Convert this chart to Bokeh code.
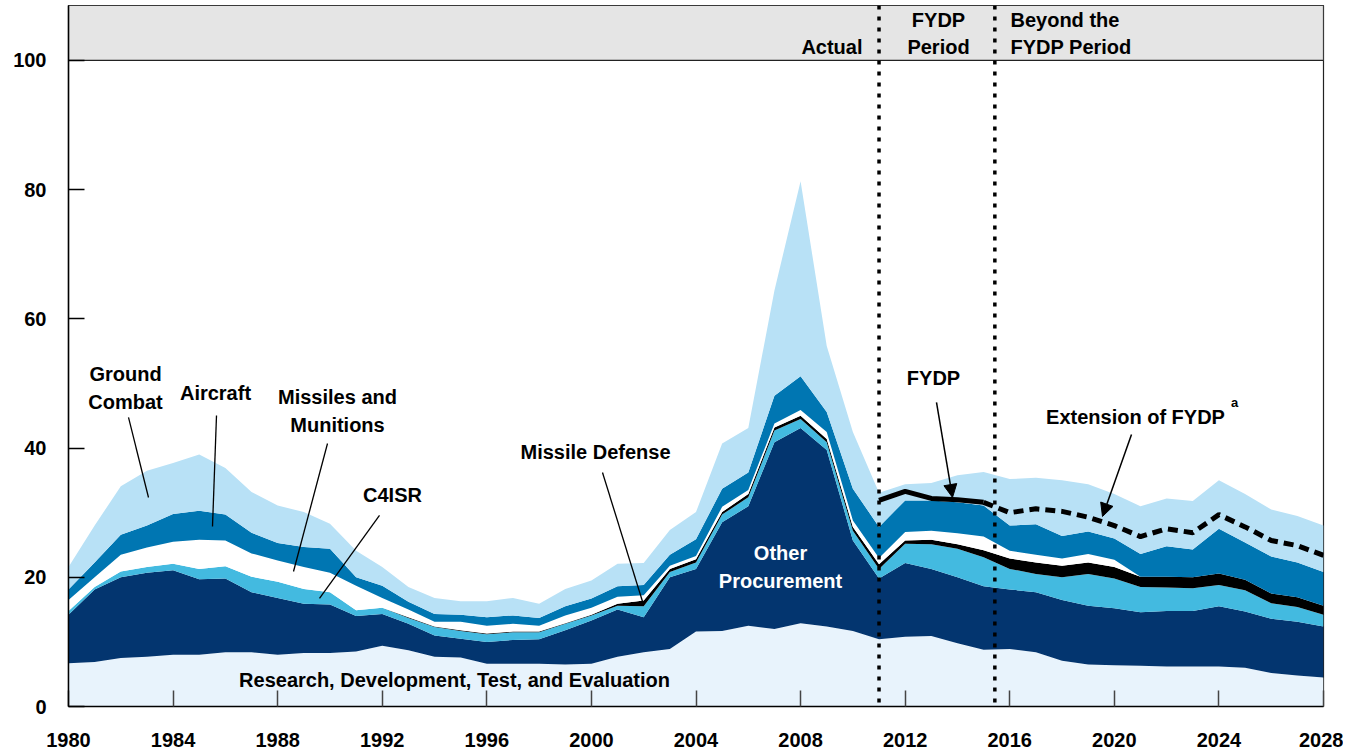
from bokeh.plotting import figure
from bokeh.models import ColumnDataSource, Range1d, FixedTicker, Label, Span, Arrow, NormalHead
from bokeh.embed import file_html
from bokeh.resources import INLINE

# ---------------- data (billions of dollars) ----------------
years = list(range(1980, 2029))
rdte = [6.7, 6.9, 7.5, 7.7, 8.0, 8.0, 8.4, 8.4, 8.0, 8.3,
        8.3, 8.5, 9.4, 8.7, 7.7, 7.6, 6.6, 6.6, 6.6, 6.5,
        6.6, 7.7, 8.4, 8.9, 11.6, 11.7, 12.5, 12.0, 12.9, 12.4,
        11.7, 10.4, 10.8, 10.9, 9.8, 8.8, 8.9, 8.4, 7.1, 6.5,
        6.4, 6.3, 6.2, 6.2, 6.2, 6.0, 5.2, 4.8, 4.5]
other_proc = [7.5, 11.2, 12.5, 13.0, 13.1, 11.7, 11.4, 9.3, 8.8, 7.6,
              7.5, 5.5, 4.9, 4.1, 3.3, 2.9, 3.4, 3.7, 3.8, 5.3,
              6.7, 7.3, 5.4, 11.1, 9.7, 16.8, 18.5, 28.9, 30.2, 27.3,
              14.0, 9.4, 11.4, 10.4, 10.2, 9.8, 9.2, 9.3, 9.4, 9.1,
              8.8, 8.3, 8.6, 8.6, 9.3, 8.7, 8.4, 8.3, 7.9]
c4isr = [0.6, 0.4, 0.9, 0.9, 1.0, 1.6, 1.9, 2.4, 2.5, 2.3,
         1.9, 0.9, 1.0, 0.9, 1.3, 1.2, 1.2, 1.2, 1.1, 1.0,
         0.8, 0.6, 1.7, 0.8, 1.0, 1.2, 1.4, 1.8, 1.4, 1.2,
         1.5, 1.5, 3.0, 3.8, 4.4, 4.5, 3.2, 2.8, 3.5, 4.9,
         4.6, 3.9, 3.6, 3.5, 3.3, 3.3, 2.4, 2.3, 1.8]
missile_def = [0, 0, 0, 0, 0, 0, 0, 0, 0, 0,
               0, 0, 0, 0.1, 0.1, 0.1, 0.1, 0.1, 0.1, 0.1,
               0.1, 0.3, 0.9, 0.5, 0.5, 0.4, 0.5, 0.5, 0.5, 0.5,
               0.6, 0.7, 0.5, 0.7, 0.7, 1.1, 1.6, 1.8, 1.8, 1.8,
               1.8, 1.6, 1.7, 1.7, 1.8, 1.6, 1.5, 1.5, 1.4]
missiles_mun = [1.7, 1.5, 2.6, 3.0, 3.4, 4.5, 4.0, 3.6, 3.3, 3.4,
                3.0, 3.8, 1.5, 1.2, 0.7, 1.3, 1.2, 1.2, 0.9, 1.2,
                1.1, 1.1, 0.8, 0.5, 0.5, 0.8, 0.6, 0.6, 0.9, 1.1,
                1.0, 1.0, 1.3, 1.4, 1.7, 2.1, 1.2, 1.2, 1.1, 1.3,
                1.1, 0, 0, 0, 0, 0, 0, 0, 0]
aircraft = [1.6, 2.3, 3.1, 3.4, 4.3, 4.5, 4.0, 3.2, 2.7, 3.1,
            3.7, 1.3, 1.9, 1.2, 1.2, 1.1, 1.3, 1.3, 1.2, 1.4,
            1.4, 1.6, 1.6, 1.7, 2.6, 2.8, 2.7, 4.3, 5.2, 3.1,
            4.9, 4.8, 4.9, 4.7, 4.8, 4.8, 3.9, 4.7, 3.5, 3.5,
            3.3, 3.5, 4.7, 4.3, 6.9, 5.8, 5.7, 5.4, 5.2]
ground_combat = [3.5, 5.7, 7.5, 8.5, 7.9, 8.7, 7.2, 6.3, 5.8, 5.4,
                 3.9, 4.1, 2.9, 2.3, 2.5, 2.1, 2.5, 2.7, 2.2, 2.7,
                 2.8, 3.5, 3.4, 3.8, 4.2, 7.0, 6.9, 16.3, 30.2, 10.2,
                 8.8, 5.3, 2.5, 2.7, 4.2, 5.2, 7.2, 7.2, 8.6, 7.3,
                 6.9, 7.4, 7.4, 7.5, 7.5, 7.5, 7.3, 7.2, 7.2]

fydp_years = [2011, 2012, 2013, 2014, 2015]
fydp_total = [31.9, 33.3, 32.2, 32.0, 31.6]
ext_years = list(range(2015, 2029))
ext_total = [31.6, 30.0, 30.6, 30.2, 29.3, 28.0, 26.3, 27.5, 26.9, 29.7, 27.8, 25.7, 24.9, 23.4]

x_tick_years = list(range(1980, 2029, 4))
y_ticks = [0, 20, 40, 60, 80, 100]
period_bounds = [2011, 2015.43]

# ---------------- styling ----------------
FONT = "Liberation Sans"
names = ["rdte", "other", "c4isr", "md", "mm", "air", "gc"]
colors = ["#e8f3fc", "#03356f", "#43bae0", "#000000", "#ffffff", "#0076b2", "#b8e1f6"]
Y_TOP = 108.5

src = ColumnDataSource(dict(year=years, rdte=rdte, other=other_proc, c4isr=c4isr,
                            md=missile_def, mm=missiles_mun, air=aircraft, gc=ground_combat))

p = figure(width=1343, height=755, x_range=Range1d(1980, 2028), y_range=Range1d(0, Y_TOP),
           output_backend="svg", toolbar_location=None,
           min_border_left=68, min_border_right=20, min_border_top=5, min_border_bottom=49)
p.xgrid.visible = False
p.ygrid.visible = False
p.outline_line_color = "#222222"
p.outline_line_width = 1.2


def px(x):
    return 1980 + (x - 68) * 48 / 1255


def py(y):
    return (706 - y) / 6.46


# header band
p.quad(left=[1980], right=[2028], bottom=[100], top=[Y_TOP], fill_color="#e5e5e5",
       line_color="#222222", line_width=1.2)

p.varea_stack(stackers=names, x="year", color=colors, source=src)

# FYDP lines
p.line(fydp_years, fydp_total, line_color="black", line_width=5)
p.line(ext_years, ext_total, line_color="black", line_width=5, line_dash="10 6")

# period separators
for b in period_bounds:
    p.add_layout(Span(location=b, dimension="height", line_color="black", line_width=3.5,
                      line_dash="4 7"))

# axes
for ax in (p.xaxis, p.yaxis):
    ax.major_tick_in = 16
    ax.major_tick_out = 0
    ax.minor_tick_line_color = None
    ax.major_label_text_font = FONT
    ax.major_label_text_font_style = "bold"
    ax.major_label_text_font_size = "20px"
    ax.major_label_text_color = "black"
    ax.axis_line_width = 1.5
    ax.major_tick_line_width = 1.5

p.yaxis.ticker = FixedTicker(ticks=y_ticks)
p.yaxis.major_label_standoff = 22
p.xaxis.ticker = FixedTicker(ticks=x_tick_years)
p.xaxis.major_label_standoff = 26
p.xaxis.major_tick_line_color = "#444444"


def lab(x, y, t, color="black", size="20px", align="center"):
    p.add_layout(Label(x=px(x), y=py(y), text=t, text_align=align, text_baseline="middle",
                       text_font=FONT, text_font_style="bold", text_font_size=size,
                       text_color=color))


# header texts
lab(862, 47, "Actual", align="right")
lab(938, 20, "FYDP")
lab(938, 47, "Period")
lab(1010, 20, "Beyond the", align="left")
lab(1010, 47, "FYDP Period", align="left")

# series labels
lab(125, 374, "Ground")
lab(125, 402, "Combat")
lab(215, 393, "Aircraft")
lab(337, 397, "Missiles and")
lab(337, 425, "Munitions")
lab(392, 495, "C4ISR")
lab(595, 452, "Missile Defense")
lab(780, 553, "Other", color="white")
lab(780, 581, "Procurement", color="white")
lab(454, 680, "Research, Development, Test, and Evaluation")
lab(933, 378, "FYDP")
lab(1135, 417, "Extension of FYDP")
lab(1234, 402, "a", size="13px")

# leader lines
leaders = [((128, 417), (148, 497)), ((216, 415), (212, 526)), ((327, 443), (293, 571)),
           ((379, 515), (319, 598)), ((602, 472), (642, 601))]
for (x0, y0), (x1, y1) in leaders:
    p.segment(x0=[px(x0)], y0=[py(y0)], x1=[px(x1)], y1=[py(y1)], line_color="black", line_width=1.3)

for (x0, y0), (x1, y1) in [((936, 402), (952, 497)), ((1131, 434), (1102, 516))]:
    p.add_layout(Arrow(end=NormalHead(size=13, fill_color="black", line_color="black"),
                       x_start=px(x0), y_start=py(y0), x_end=px(x1), y_end=py(y1),
                       line_color="black", line_width=1.5))

open("out.html", "w").write(file_html(p, INLINE))
